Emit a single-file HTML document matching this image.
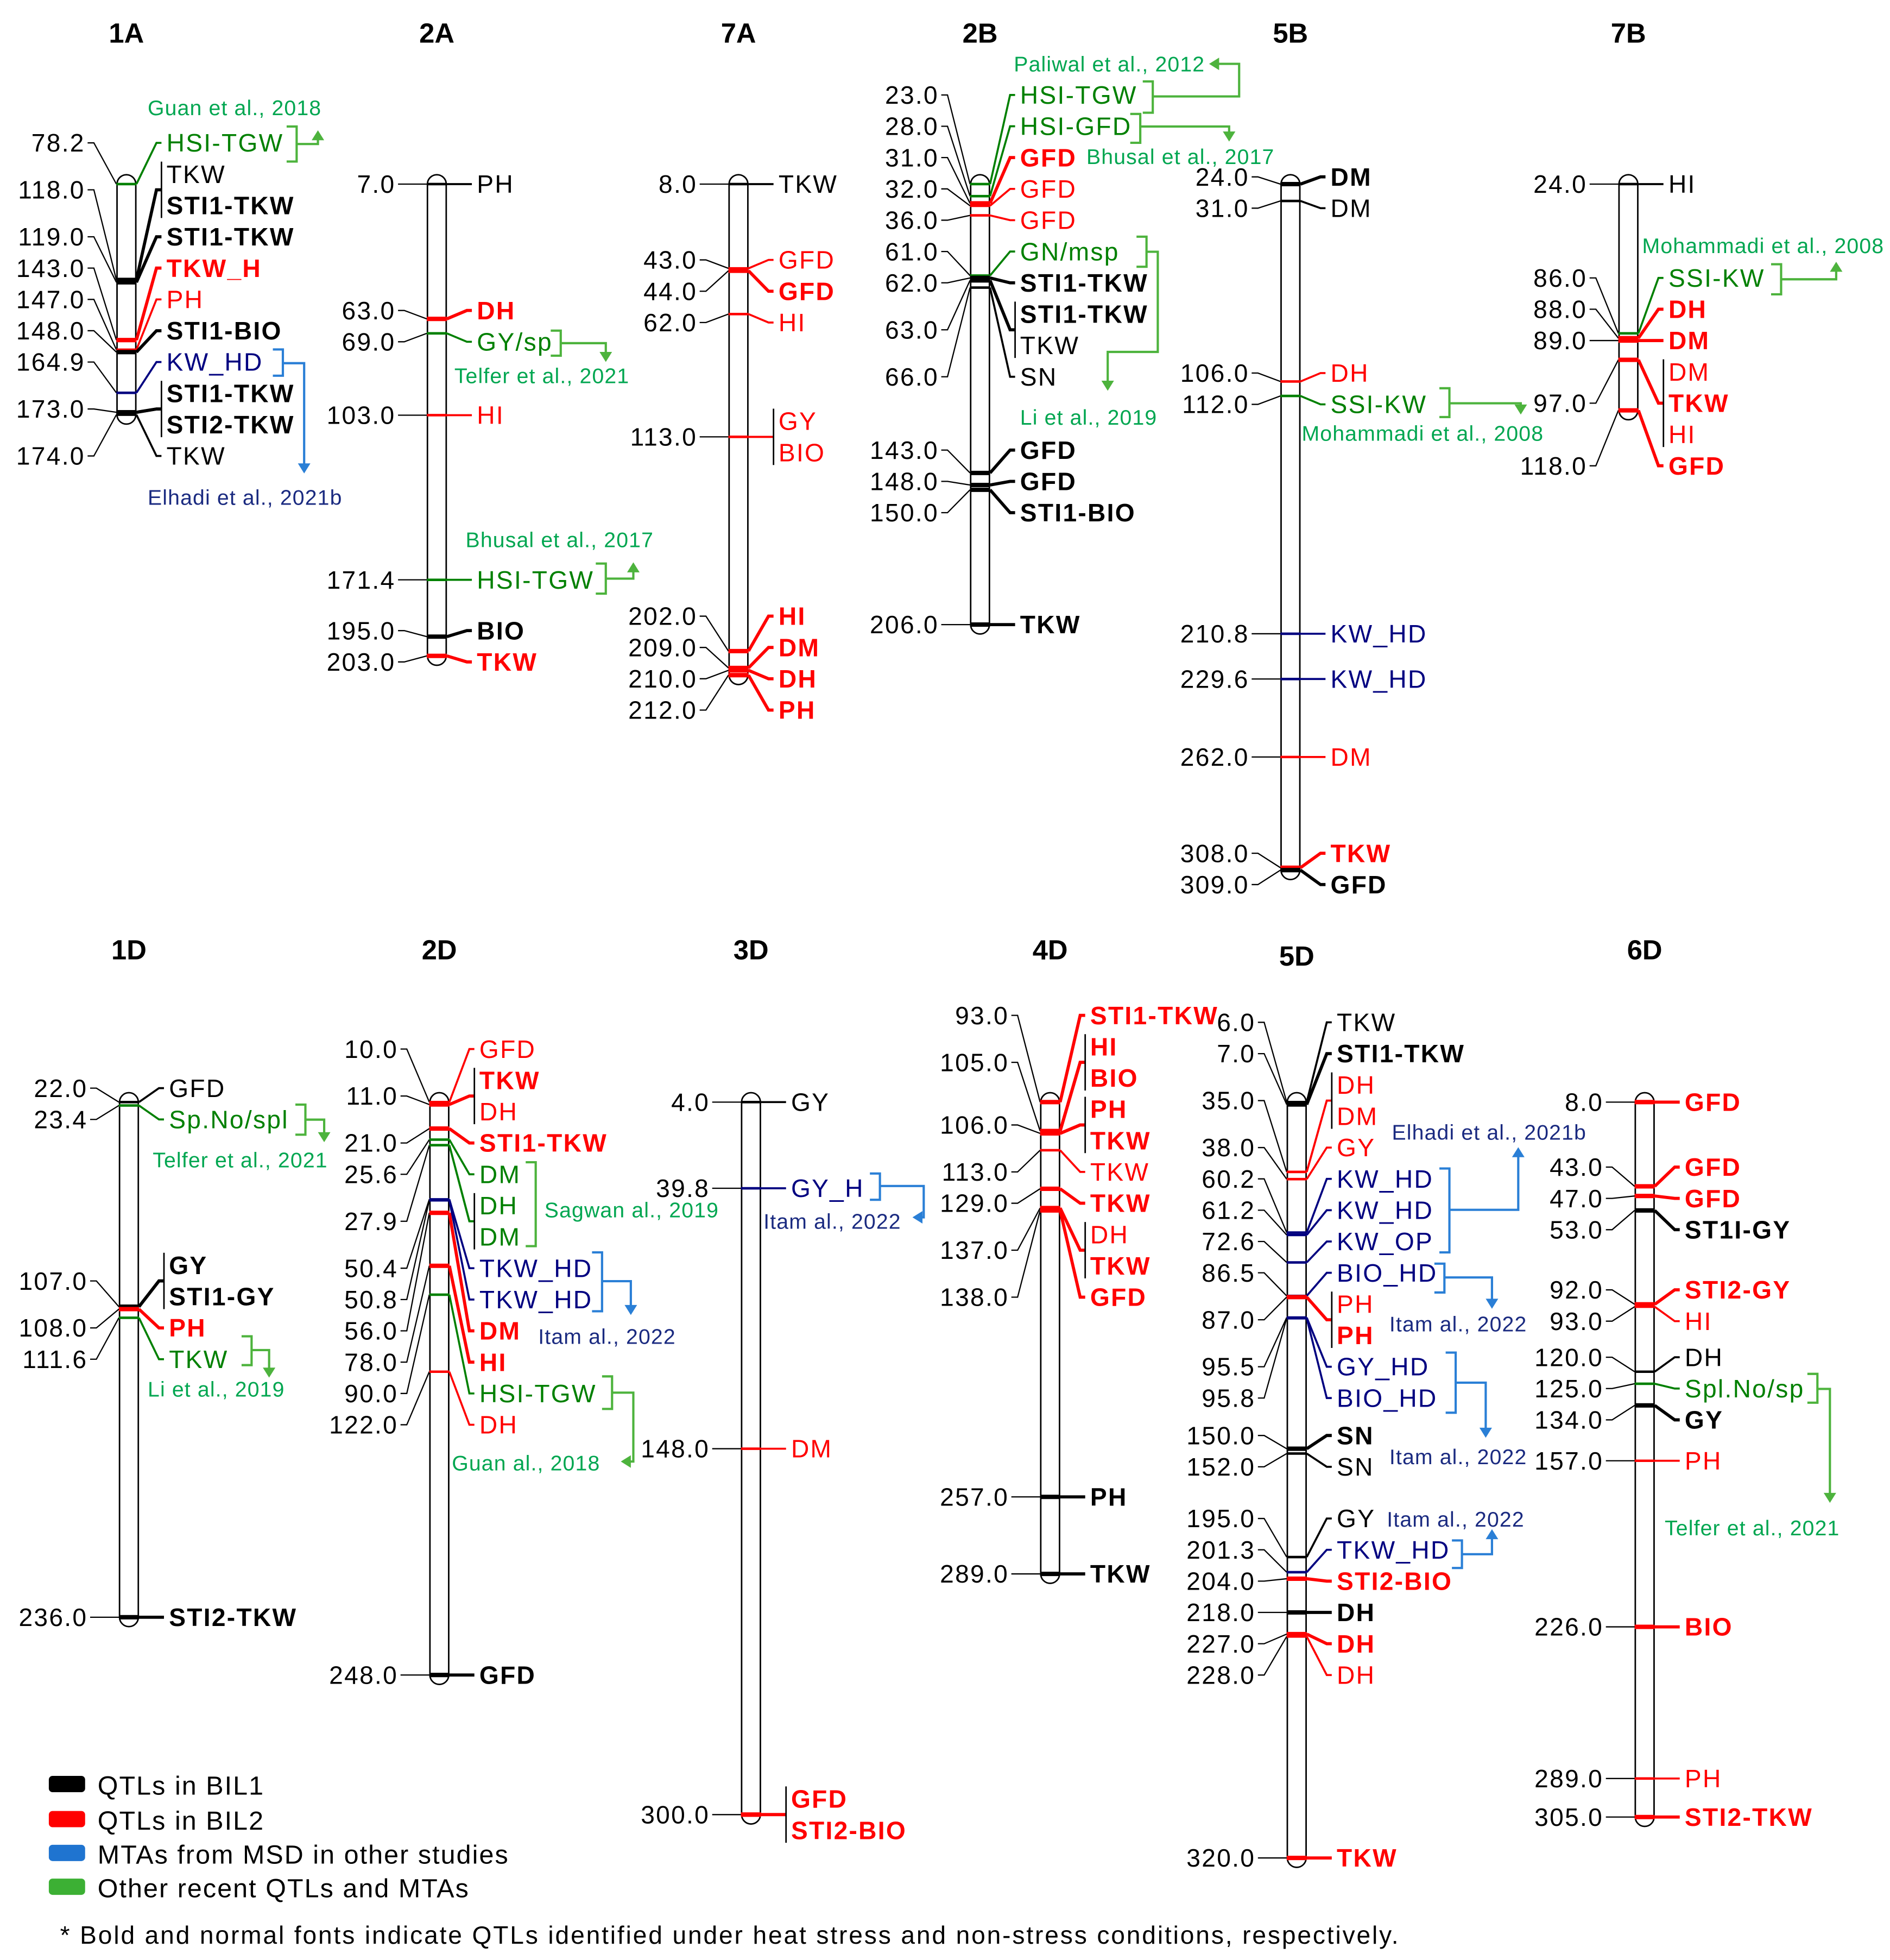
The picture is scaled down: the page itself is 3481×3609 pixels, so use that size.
<!DOCTYPE html>
<html><head><meta charset="utf-8"><style>
html,body{margin:0;padding:0;background:#fff}
svg{display:block}
text{font-family:"Liberation Sans",Arial,sans-serif}
.lab{letter-spacing:1px}
.cit{letter-spacing:0.5px}
.leg{letter-spacing:0.9px}
.foot{letter-spacing:1.25px}
</style></head><body>
<svg id="map" xmlns="http://www.w3.org/2000/svg" width="3481" height="3609" viewBox="0 0 1510 1565" preserveAspectRatio="none">
<g id="chroms"></g>
<g id="notes"></g>
<g id="legend">
  <rect x="39" y="1418" width="29" height="13" rx="3" fill="#000"/>
  <text class="leg" x="78" y="1433" font-size="21">QTLs in BIL1</text>
  <rect x="39" y="1446" width="29" height="13" rx="3" fill="#ff0000"/>
  <text class="leg" x="78" y="1461" font-size="21">QTLs in BIL2</text>
  <rect x="39" y="1473" width="29" height="13" rx="3" fill="#1f74d0"/>
  <text class="leg" x="78" y="1488" font-size="21">MTAs from MSD in other studies</text>
  <rect x="39" y="1500" width="29" height="13" rx="3" fill="#3cb034"/>
  <text class="leg" x="78" y="1515" font-size="21">Other recent QTLs and MTAs</text>
  <text class="foot" x="48" y="1552" font-size="20">* Bold and normal fonts indicate QTLs identified under heat stress and non-stress conditions, respectively.</text>
</g>
</svg>
<script>
// ---- data ----
const chromNames = ["1A","2A","7A","2B","5B","7B","1D","2D","3D","4D","5D","6D"];
const chromRow   = [0,0,0,0,0,0,1,1,1,1,1,1];
const chromX     = [101,349,590,783,1031,1301,103,351,600,839,1036,1314];
// each marker: [cM, trait, colour code, bold]
const chr1A = [[78.2,"HSI-TGW","g",0],[118,"TKW","k",0],[118,"STI1-TKW","k",1],[119,"STI1-TKW","k",1],[143,"TKW_H","r",1],[147,"PH","r",0],[148,"STI1-BIO","k",1],[164.9,"KW_HD","b",0],[173,"STI1-TKW","k",1],[173,"STI2-TKW","k",1],[174,"TKW","k",0]];
const chr2A = [[7,"PH","k",0],[63,"DH","r",1],[69,"GY/sp","g",0],[103,"HI","r",0],[171.4,"HSI-TGW","g",0],[195,"BIO","k",1],[203,"TKW","r",1]];
const chr7A = [[8,"TKW","k",0],[43,"GFD","r",0],[44,"GFD","r",1],[62,"HI","r",0],[113,"GY","r",0],[113,"BIO","r",0],[202,"HI","r",1],[209,"DM","r",1],[210,"DH","r",1],[212,"PH","r",1]];
const chr2B = [[23,"HSI-TGW","g",0],[28,"HSI-GFD","g",0],[31,"GFD","r",1],[32,"GFD","r",0],[36,"GFD","r",0],[61,"GN/msp","g",0],[62,"STI1-TKW","k",1],[63,"STI1-TKW","k",1],[63,"TKW","k",0],[66,"SN","k",0],[143,"GFD","k",1],[148,"GFD","k",1],[150,"STI1-BIO","k",1],[206,"TKW","k",1]];
const chr5B = [[24,"DM","k",1],[31,"DM","k",0],[106,"DH","r",0],[112,"SSI-KW","g",0],[210.8,"KW_HD","b",0],[229.6,"KW_HD","b",0],[262,"DM","r",0],[308,"TKW","r",1],[309,"GFD","k",1]];
const chr7B = [[24,"HI","k",0],[86,"SSI-KW","g",0],[88,"DH","r",1],[89,"DM","r",1],[97,"DM","r",0],[97,"TKW","r",1],[97,"HI","r",0],[118,"GFD","r",1]];
const chr1D = [[22,"GFD","k",0],[23.4,"Sp.No/spl","g",0],[107,"GY","k",1],[107,"STI1-GY","k",1],[108,"PH","r",1],[111.6,"TKW","g",0],[236,"STI2-TKW","k",1]];
const chr2D = [[10,"GFD","r",0],[11,"TKW","r",1],[11,"DH","r",0],[21,"STI1-TKW","r",1],[25.6,"DM","g",0],[27.9,"DH","g",0],[27.9,"DM","g",0],[50.4,"TKW_HD","b",0],[50.8,"TKW_HD","b",0],[56,"DM","r",1],[78,"HI","r",1],[90,"HSI-TGW","g",0],[122,"DH","r",0],[248,"GFD","k",1]];
const chr3D = [[4,"GY","k",0],[39.8,"GY_H","b",0],[148,"DM","r",0],[300,"GFD","r",1],[300,"STI2-BIO","r",1]];
const chr4D = [[93,"STI1-TKW","r",1],[105,"HI","r",1],[105,"BIO","r",1],[106,"PH","r",1],[106,"TKW","r",1],[113,"TKW","r",0],[129,"TKW","r",1],[137,"DH","r",0],[137,"TKW","r",1],[138,"GFD","r",1],[257,"PH","k",1],[289,"TKW","k",1]];
const chr5D = [[6,"TKW","k",0],[7,"STI1-TKW","k",1],[35,"DH","r",0],[35,"DM","r",0],[38,"GY","r",0],[60.2,"KW_HD","b",0],[61.2,"KW_HD","b",0],[72.6,"KW_OP","b",0],[86.5,"BIO_HD","b",0],[87,"PH","r",0],[87,"PH","r",1],[95.5,"GY_HD","b",0],[95.8,"BIO_HD","b",0],[150,"SN","k",1],[152,"SN","k",0],[195,"GY","k",0],[201.3,"TKW_HD","b",0],[204,"STI2-BIO","r",1],[218,"DH","k",1],[227,"DH","r",1],[228,"DH","r",0],[320,"TKW","r",1]];
const chr6D = [[8,"GFD","r",1],[43,"GFD","r",1],[47,"GFD","r",1],[53,"ST1I-GY","k",1],[92,"STI2-GY","r",1],[93,"HI","r",0],[120,"DH","k",0],[125,"Spl.No/sp","g",0],[134,"GY","k",1],[157,"PH","r",0],[226,"BIO","r",1],[289,"PH","r",0],[305,"STI2-TKW","r",1]];
const chromData = [chr1A,chr2A,chr7A,chr2B,chr5B,chr7B,chr1D,chr2D,chr3D,chr4D,chr5D,chr6D];

const COL = {k:"#000000", r:"#ff0000", g:"#008000", b:"#000080"};
const ROW_Y = [147, 880];
const TITLE_Y = [34, 766];
const PX_PER_CM = 1.922;
const SP = 25;
const NS = "http://www.w3.org/2000/svg";

function mk(tag, attrs, parent){
  const e = document.createElementNS(NS, tag);
  for (const k in attrs) e.setAttribute(k, attrs[k]);
  parent.appendChild(e);
  return e;
}
function yScale(row, c0){ return cm => ROW_Y[row] + (cm - c0) * PX_PER_CM; }

function layout(ticks){
  let cl = ticks.map((t,i)=>({lo:t,hi:t,idx:[i]}));
  let changed = true;
  const pos = c => { const mid=(c.lo+c.hi)/2, n=c.idx.length; return [mid-(n-1)*SP/2, mid+(n-1)*SP/2]; };
  while (changed){
    changed = false;
    for (let i=0;i<cl.length-1;i++){
      const a=pos(cl[i]), b=pos(cl[i+1]);
      if (a[1]+SP > b[0]+0.01){
        cl[i] = {lo:Math.min(cl[i].lo,cl[i+1].lo), hi:Math.max(cl[i].hi,cl[i+1].hi), idx:cl[i].idx.concat(cl[i+1].idx)};
        cl.splice(i+1,1); changed = true; break;
      }
    }
  }
  const out = [];
  cl.forEach(c=>{ const p=pos(c); c.idx.forEach((ix,j)=>{ out[ix]=p[0]+j*SP; }); });
  return out;
}

const root = document.getElementById('chroms');
chromData.forEach((data, ci) => {
  const row = chromRow[ci], bx = chromX[ci];
  const y = yScale(row, data[0][0]);
  const g = mk('g', {}, root);
  
  
  const t = mk('text', {x:bx, y:TITLE_Y[row] + (chromNames[ci]==="5D"?5:0), 'font-size':22, 'font-weight':'bold', 'text-anchor':'middle'}, g);
  t.textContent = chromNames[ci];
  
  
  const y1 = y(data[0][0]), y2 = y(data[data.length-1][0]), r = 7.5;
  const bar = mk('path', {d:`M${bx-r},${y1} A${r},${r} 0 0 1 ${bx+r},${y1} L${bx+r},${y2} A${r},${r} 0 0 1 ${bx-r},${y2} Z`, fill:'#fff', stroke:'#000', 'stroke-width':1.2}, g);
  
  

  const ticks = data.map(m => y(m[0]));
  const ly = layout(ticks);
  const groups = [];
  data.forEach((m,i)=>{
    const last = groups[groups.length-1];
    if (last && last.cm === m[0]) last.items.push(i); else groups.push({cm:m[0], items:[i]});
  });
  groups.forEach(gr => {
    const ty = y(gr.cm);
    const mean = gr.items.reduce((s,i)=>s+ly[i],0)/gr.items.length;
    const lc = mk('polyline', {points:`${bx-31},${mean} ${bx-26},${mean} ${bx-8},${ty}`, fill:'none', stroke:'#000', 'stroke-width':1}, g);
    
    
    const nt = mk('text', {x:bx-33, y:mean+7, 'font-size':20, 'text-anchor':'end', class:'lab'}, g);
    nt.textContent = gr.cm.toFixed(1);
    
    
    gr.items.forEach(i => {
      const m = data[i], c = COL[m[2]], bold = m[3];
      const tk = mk('line', {x1:bx-8, y1:ty, x2:bx+8, y2:ty, stroke:c, 'stroke-width': bold?3.5:2}, g);
      
      
      const endY = gr.items.length>1 ? mean : ly[i];
      const rc = mk('polyline', {points:`${bx+8},${ty} ${bx+24},${endY} ${bx+28},${endY}`, fill:'none', stroke:c, 'stroke-width': bold?2.5:1.6}, g);
      
      
      const tx = mk('text', {x:bx+32, y:ly[i]+7, 'font-size':20, fill:c, 'font-weight': bold?'bold':'normal', class:'lab'}, g);
      tx.textContent = m[1];
      
      
    });
    if (gr.items.length>1){
      const a = ly[gr.items[0]], b = ly[gr.items[gr.items.length-1]];
      const vl = mk('line', {x1:bx+28, y1:a-10, x2:bx+28, y2:b+10, stroke:'#000', 'stroke-width':1.2}, g);
      
      
    }
  });
});

// ---- citation annotations ----
const GT = "#00a650", GL = "#4db33d", BT = "#1a2a80", BL = "#2a7fd6";
const notes = document.getElementById('notes');
const cites = [
 ["Guan et al., 2018",118,92,"g",229,101,129,"M237,115 L254,115 L254,106",[254,104,"u"]],
 ["Elhadi et al., 2021b",118,403,"b",218,279,300,"M226,290 L243,290 L243,372",[243,378,"d"]],
 ["Telfer et al., 2021",363,306,"g",440,264,284,"M448,274 L484,274 L484,284",[484,289,"d"]],
 ["Bhusal et al., 2017",372,437,"g",476,450,474,"M484,462 L506,462 L506,453",[506,449,"u"]],
 ["Paliwal et al., 2012",810,57,"g",913,65,90,"M921,77 L990,77 L990,51 L970,51",[966,51,"l"]],
 ["Bhusal et al., 2017",868,131,"g",903,91,114,"M911,101 L982,101 L982,108",[982,113,"d"]],
 ["Li et al., 2019",815,339,"g",908,189,213,"M916,201 L925,201 L925,281 L885,281 L885,306",[885,312,"d"]],
 ["Mohammadi et al., 2008",1040,352,"g",1150,310,333,"M1158,322 L1215,322 L1215,326",[1215,331,"d"]],
 ["Mohammadi et al., 2008",1312,202,"g",1415,211,235,"M1423,223 L1467,223 L1467,214",[1467,209,"u"]],
 ["Telfer et al., 2021",122,932,"g",236,882,906,"M244,894 L259,894 L259,907",[259,912,"d"]],
 ["Li et al., 2019",118,1115,"g",193,1067,1090,"M201,1078 L215,1078 L215,1095",[215,1100,"d"]],
 ["Sagwan al., 2019",435,972,"g",420,928,995,"",null],
 ["Itam al., 2022",430,1073,"b",473,1000,1047,"M481,1023 L504,1023 L504,1045",[504,1050,"d"]],
 ["Guan al., 2018",361,1174,"g",481,1099,1125,"M489,1112 L506,1112 L506,1167 L500,1167",[496,1167,"l"]],
 ["Itam al., 2022",610,981,"b",695,937,958,"M703,947 L738,947 L738,972 L733,972",[729,972,"l"]],
 ["Elhadi et al., 2021b",1112,910,"b",1150,933,1000,"M1158,966 L1213,966 L1213,921",[1213,916,"u"]],
 ["Itam al., 2022",1110,1063,"b",1146,1009,1032,"M1154,1020 L1192,1020 L1192,1040",[1192,1045,"d"]],
 ["Itam al., 2022",1110,1169,"b",1155,1080,1128,"M1163,1104 L1187,1104 L1187,1143",[1187,1148,"d"]],
 ["Itam al., 2022",1108,1219,"b",1160,1230,1252,"M1168,1241 L1192,1241 L1192,1226",[1192,1221,"u"]],
 ["Telfer et al., 2021",1330,1226,"g",1444,1097,1120,"M1452,1109 L1462,1109 L1462,1195",[1462,1200,"d"]]
];
cites.forEach(c => {
  const tc = c[3]==="g"?GT:BT, lc = c[3]==="g"?GL:BL;
  const t = mk('text', {x:c[1], y:c[2], 'font-size':17, fill:tc, class:'cit'}, notes);
  t.textContent = c[0];
  
  
  const br = mk('path', {d:`M${c[4]},${c[5]} L${c[4]+8},${c[5]} L${c[4]+8},${c[6]} L${c[4]},${c[6]}`, fill:'none', stroke:lc, 'stroke-width':1.8}, notes);
  
  
  if (c[7]){
    const p = mk('path', {d:c[7], fill:'none', stroke:lc, 'stroke-width':1.8}, notes);
    
    
  }
  if (c[8]){
    const [x,y,d] = c[8]; let pts;
    if (d==="d") pts=`${x-5},${y-8} ${x+5},${y-8} ${x},${y}`;
    else if (d==="u") pts=`${x-5},${y+8} ${x+5},${y+8} ${x},${y}`;
    else pts=`${x+8},${y-5} ${x+8},${y+5} ${x},${y}`;
    const h = mk('polygon', {points:pts, fill:lc}, notes);
    
    
  }
});
</script>
</body></html>
